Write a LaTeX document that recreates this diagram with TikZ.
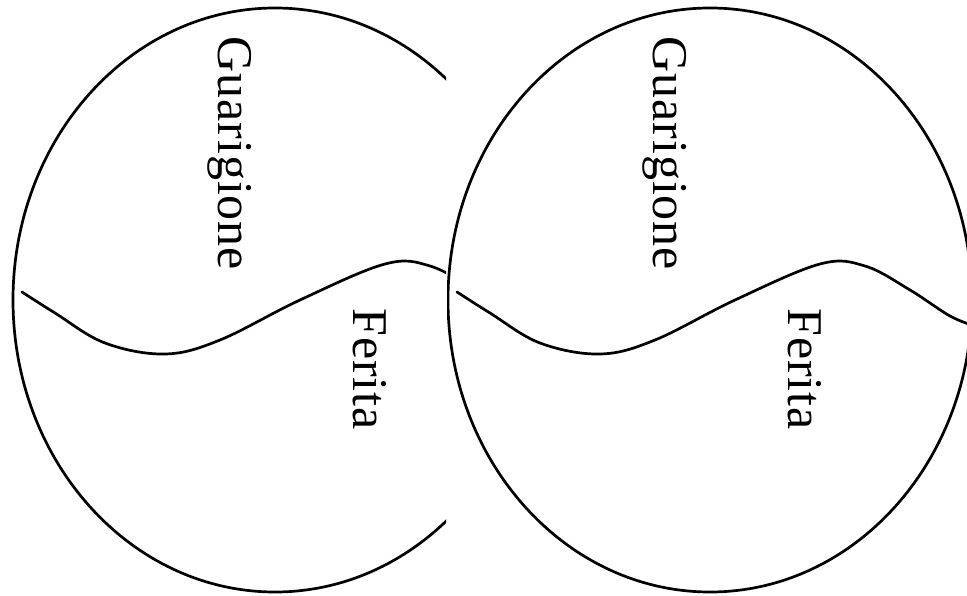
\documentclass[tikz,border=0pt]{standalone}
\usepackage{fontspec}
\setmainfont{Liberation Serif}[LetterSpace=2.0]
\usepackage{xcolor}
\definecolor{inkblack}{RGB}{0,0,0}
\tikzset{
  outline/.style ={draw=inkblack,line width=2.7pt,line join=round,line cap=round},
  tag/.style     ={inner sep=0pt,font=\fontsize{50}{60}\selectfont,rotate=-90,anchor=base west},
}

\begin{document}
\begin{tikzpicture}[x=1pt,y=-1pt]
  \useasboundingbox (0,0) rectangle (967,596);
  % the same sketch twice, each one cut at its panel edge
  \foreach \cx/\lo/\hi/\side in {275/0/446/left,710/447/967/right}{
    \begin{scope}
      \clip (\lo,0) rectangle (\hi,596);
      \begin{scope}[shift={(\cx,300)}]
        \draw[outline] (0,0) ellipse [x radius=262pt,y radius=292pt];
        \draw[outline] plot[smooth,tension=0.6] coordinates
          {(-253,-8) (-220,13) (-170,43) (-110,54) (-55,40) (25,0)
           (110,-36) (155,-34) (200,-10) (240,16) (265,26)};
        \node[tag] (heal-\side) at (-57,-264) {Guarigione};
        \node[tag] (wound-\side) at (78,8) {Ferita};
      \end{scope}
    \end{scope}
  }
\end{tikzpicture}
\end{document}
